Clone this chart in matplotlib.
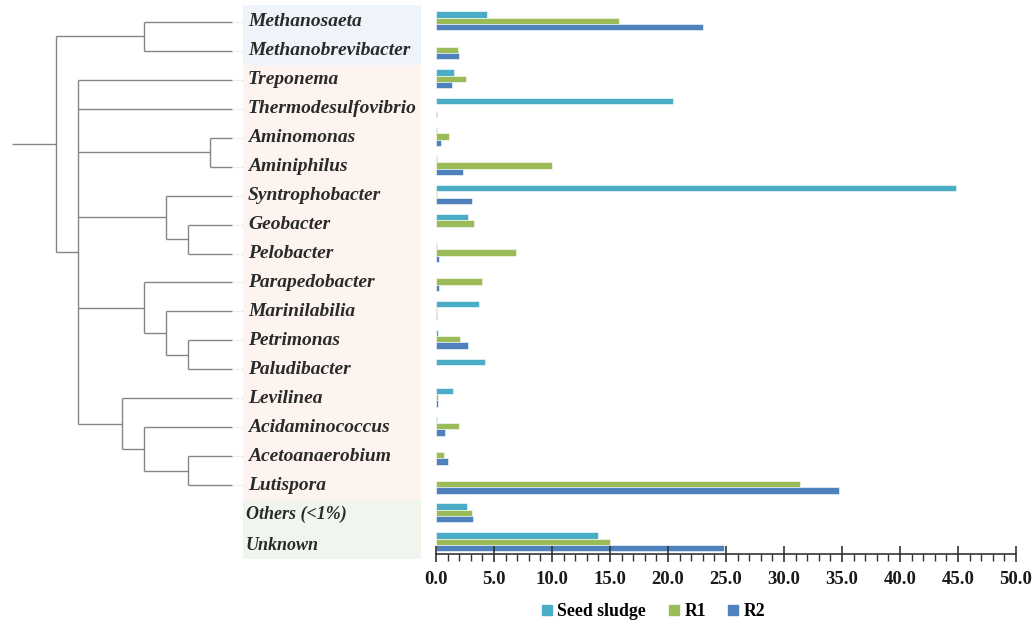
import numpy as np
import matplotlib
matplotlib.use("Agg")
import matplotlib.pyplot as plt
from matplotlib.patches import Rectangle
from matplotlib.lines import Line2D

genera = ['Methanosaeta', 'Methanobrevibacter', 'Treponema', 'Thermodesulfovibrio',
          'Aminomonas', 'Aminiphilus', 'Syntrophobacter', 'Geobacter', 'Pelobacter',
          'Parapedobacter', 'Marinilabilia', 'Petrimonas', 'Paludibacter', 'Levilinea',
          'Acidaminococcus', 'Acetoanaerobium', 'Lutispora', 'Others (<1%)', 'Unknown']

seed = [4.4, 0.0, 1.55, 20.4, 0.1, 0.05, 44.8, 2.8, 0.1, 0.0, 3.7, 0.15, 4.2, 1.5,
        0.05, 0.0, 0.0, 2.65, 14.0]
r1 = [15.8, 1.9, 2.6, 0.0, 1.15, 10.0, 0.1, 3.3, 6.9, 4.0, 0.1, 2.1, 0.0, 0.2,
      1.95, 0.65, 31.4, 3.1, 15.0]
r2 = [23.0, 2.0, 1.4, 0.05, 0.4, 2.3, 3.1, 0.0, 0.3, 0.3, 0.05, 2.8, 0.0, 0.15,
      0.75, 1.05, 34.7, 3.2, 24.8]

series = ['Seed sludge', 'R1', 'R2']
colors = ['#4BACC6', '#9BBB59', '#4F81BD']

# dendrogram: (node depth, children); leaves sit at depth 8
tree = (0, [(4, ['Methanosaeta', 'Methanobrevibacter']),
            (1, ['Treponema', 'Thermodesulfovibrio',
                 (7, ['Aminomonas', 'Aminiphilus']),
                 (5, ['Syntrophobacter', (6, ['Geobacter', 'Pelobacter'])]),
                 (4, ['Parapedobacter', (5, ['Marinilabilia', (6, ['Petrimonas', 'Paludibacter'])])]),
                 (3, ['Levilinea', (4, ['Acidaminococcus', (6, ['Acetoanaerobium', 'Lutispora'])])])])])
LEAF = 8

serif = ['Liberation Serif', 'DejaVu Serif']

fig = plt.figure(figsize=(10.33, 6.25), dpi=100)
ylim = (18.38, -0.586)

# ---- bar panel ----
ax = fig.add_axes([436 / 1033, 71 / 625, 580 / 1033, 549 / 625])
y = np.arange(len(genera))
h = 0.22
for i, (vals, c, name) in enumerate(zip([seed, r1, r2], colors, series)):
    ax.barh(y + (i - 1) * h - 0.04, vals, height=h, color=c, edgecolor='white',
            linewidth=0.4, label=name)
ax.set_ylim(*ylim)
ax.set_xlim(0, 50)
for s in ['top', 'right', 'left']:
    ax.spines[s].set_visible(False)
ax.spines['bottom'].set_color('#333333')
ax.spines['bottom'].set_linewidth(1.2)
ax.set_yticks([])
ax.set_xticks(np.arange(0, 51, 5))
ax.set_xticks(np.arange(0, 51, 1), minor=True)
ax.set_xticklabels([f'{v:.1f}' for v in np.arange(0, 51, 5)])
ax.tick_params(axis='x', which='major', direction='inout', length=12, width=1.2,
               color='#333333', pad=6)
ax.tick_params(axis='x', which='minor', direction='out', length=5, width=1,
               color='#333333')
for t in ax.get_xticklabels():
    t.set_family(serif)
    t.set_fontweight('bold')
    t.set_fontsize(13.5)
    t.set_color('#1a1a1a')

handles = [Line2D([], [], ls='none', marker='s', markersize=7, color=c, label=n)
           for c, n in zip(colors, series)]
fig.legend(handles=handles, loc='center', bbox_to_anchor=(654 / 1033, 1 - 612 / 625),
           ncol=3, frameon=False, handlelength=0.5, handletextpad=0.35,
           columnspacing=1.3,
           prop={'family': serif, 'weight': 'bold', 'size': 12.8})

# ---- dendrogram + labels ----
axt = fig.add_axes([0, 71 / 625, 436 / 1033, 549 / 625])
axt.set_ylim(*ylim)
px0, step = 56, 22
axt.set_xlim(-px0 / step, (436 - px0) / step)
axt.axis('off')

line_kw = dict(color='#858585', lw=1.0, solid_capstyle='butt')


def draw(node, parent):
    if isinstance(node, str):
        yy = genera.index(node)
        axt.plot([parent, LEAF], [yy, yy], **line_kw)
        axt.plot([LEAF, (243 - px0) / step], [yy, yy], color='#e0e0e0', lw=0.8, ls=(0, (2, 2)))
        return yy
    level, kids = node
    ys = [draw(k, level) for k in kids]
    mid = (min(ys) + max(ys)) / 2
    axt.plot([level, level], [min(ys), max(ys)], **line_kw)
    axt.plot([parent, level], [mid, mid], **line_kw)
    return mid


draw(tree, -2)

bx0 = (243 - px0) / step
bx1 = (421 - px0) / step
boxes = [(-0.586, 1.5, '#eef4fa'), (1.5, 16.5, '#fdf4ef'), (16.5, 18.55, '#f0f5ee')]
for top, bot, fc in boxes:
    axt.add_patch(Rectangle((bx0, top), bx1 - bx0, bot - top, facecolor=fc,
                            edgecolor='none', clip_on=False, zorder=0))

for i, g in enumerate(genera):
    dx = 248 if i < 17 else 246
    dy = 0.1 if i == 18 else 0
    axt.text((dx - px0) / step, i + dy, g, ha='left', va='center', family=serif,
             style='italic', weight='bold', fontsize=14 if i < 17 else 13,
             color='#2a2a2a')

fig.savefig('out.png', dpi=100)
